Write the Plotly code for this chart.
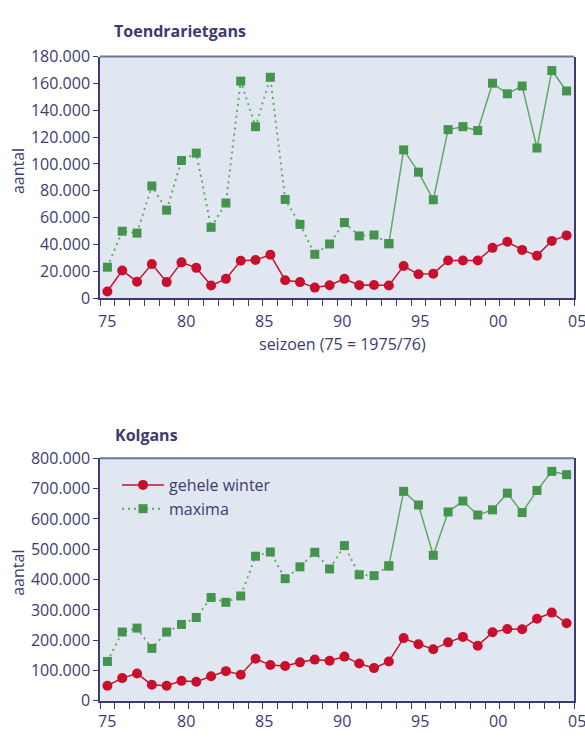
import plotly.graph_objects as go

# ---- data ----
seizoenen = list(range(1975, 2007))  # 32 seasons, 75 = 1975/76
x_tick_labels = ["75", "80", "85", "90", "95", "00", "05"]

toendra_winter = [5000, 20700, 12300, 25400, 12000, 26700, 22600, 9400, 14400, 27900,
                  28400, 32400, 13400, 12000, 7900, 9600, 14400, 9600, 9800, 9400,
                  24000, 17800, 18300, 28100, 28100, 28100, 37500, 42000, 36000, 31700,
                  42700, 46800]
toendra_maxima = [23100, 49900, 48500, 83600, 65600, 102600, 108100, 52800, 70900, 161700,
                  127800, 164600, 73600, 55000, 32700, 40400, 56400, 46400, 47100, 40600,
                  110500, 93900, 73300, 125600, 127800, 124900, 160200, 152300, 158100, 111900,
                  169600, 154400]

kol_winter = [50000, 75000, 90000, 53000, 50000, 66000, 63000, 81000, 98000, 86000,
              139000, 118000, 115000, 127000, 136000, 132000, 146000, 123000, 108000, 130000,
              207000, 187000, 170000, 193000, 211000, 182000, 226000, 237000, 236000, 271000,
              291000, 256000]
kol_maxima = [130000, 227000, 240000, 173000, 227000, 252000, 275000, 341000, 325000, 346000,
              477000, 491000, 403000, 442000, 490000, 435000, 512000, 416000, 413000, 445000,
              691000, 646000, 480000, 623000, 659000, 613000, 630000, 685000, 621000, 694000,
              757000, 746000]

split = 19  # maxima drawn dotted up to this season index, solid after

# ---- style ----
W, H = 585, 740
NAVY = "#3C3C6E"
BORDER_TOP = "#75759C"
RED = "#C8102E"
GREEN_M = "#45944E"
GREEN_L = "#5FA867"
BG = "#E1E7F1"
FONT = "Open Sans"

def px_x(p):
    return p / W

def px_y(p):
    return 1 - p / H

fig = go.Figure()

def add_series(xa, ya, winter, maxima, show_legend):
    fig.add_trace(go.Scatter(
        x=seizoenen[:split + 1], y=maxima[:split + 1], xaxis=xa, yaxis=ya,
        mode="lines+markers", name="maxima", legendgroup="max", showlegend=show_legend,
        line=dict(color=GREEN_L, width=1.9, dash="2px,4px"),
        marker=dict(symbol="square", size=9, color=GREEN_M), cliponaxis=False))
    fig.add_trace(go.Scatter(
        x=seizoenen[split:], y=maxima[split:], xaxis=xa, yaxis=ya,
        mode="lines+markers", name="maxima", legendgroup="max", showlegend=False,
        line=dict(color=GREEN_L, width=1.5),
        marker=dict(symbol="square", size=9, color=GREEN_M), cliponaxis=False))
    fig.add_trace(go.Scatter(
        x=seizoenen, y=winter, xaxis=xa, yaxis=ya,
        mode="lines+markers", name="gehele winter", legendgroup="win", showlegend=show_legend,
        line=dict(color=RED, width=1.5),
        marker=dict(symbol="circle", size=10, color=RED), cliponaxis=False))

add_series("x", "y", toendra_winter, toendra_maxima, False)
add_series("x2", "y2", kol_winter, kol_maxima, True)

xdom = [px_x(100), px_x(574)]
boundaries = [seizoenen[0] - 0.5 + k for k in range(len(seizoenen) + 1)]
xrange_ = [seizoenen[0] - 0.5, seizoenen[-1] + 0.5]

xcommon = dict(range=xrange_, showgrid=False, zeroline=False, showline=True,
               linecolor=NAVY, linewidth=1.5, mirror=False,
               tickmode="array", tickvals=boundaries, ticktext=[""] * len(boundaries),
               ticks="outside", ticklen=6, tickwidth=1.3, tickcolor=NAVY)
ycommon = dict(showgrid=False, zeroline=False, showline=True, linecolor=NAVY,
               linewidth=1.5, mirror=True, ticks="outside", ticklen=5, tickwidth=1.3,
               tickcolor=NAVY, tickformat=",d",
               tickfont=dict(family=FONT, size=16, color=NAVY))

fig.update_layout(
    width=W, height=H, margin=dict(l=0, r=0, t=0, b=0),
    paper_bgcolor="white", plot_bgcolor=BG, separators=",.",
    font=dict(family=FONT, color=NAVY, size=16),
    xaxis=dict(domain=xdom, anchor="y", **xcommon),
    yaxis=dict(domain=[px_y(296), px_y(47)], anchor="x", range=[0, 180000],
               tickvals=list(range(0, 180001, 20000)), **ycommon),
    xaxis2=dict(domain=xdom, anchor="y2", **xcommon),
    yaxis2=dict(domain=[px_y(711), px_y(461)], anchor="x2", range=[0, 800000],
                tickvals=list(range(0, 800001, 100000)), **ycommon),
    legend=dict(x=px_x(117), y=px_y(471), xanchor="left", yanchor="top",
                bgcolor="rgba(0,0,0,0)", font=dict(family=FONT, size=16, color=NAVY),
                itemwidth=42, traceorder="reversed", tracegroupgap=0),
    showlegend=True,
)

# lighter top border of each plot frame
fig.update_layout(shapes=[
    dict(type="line", xref="x domain", yref="y domain", x0=0, x1=1, y0=1, y1=1,
         line=dict(color=BORDER_TOP, width=2)),
    dict(type="line", xref="x2 domain", yref="y2 domain", x0=0, x1=1, y0=1, y1=1,
         line=dict(color=BORDER_TOP, width=2)),
])

annotations = []
label_step = 5.28
span = xrange_[1] - xrange_[0]
for k, lab in enumerate(x_tick_labels):
    pos = seizoenen[0] + k * label_step
    frac = (pos - xrange_[0]) / span
    for xr, ypx in (("x domain", 319), ("x2 domain", 732)):
        annotations.append(dict(x=frac, xref=xr, y=px_y(ypx), yref="paper", text=lab,
                                showarrow=False, xanchor="center", yanchor="middle",
                                font=dict(family=FONT, size=16, color=NAVY)))

annotations += [
    dict(x=px_x(112), y=px_y(21), xref="paper", yref="paper", text="<b>Toendrarietgans</b>",
         showarrow=False, xanchor="left", yanchor="middle",
         font=dict(family=FONT, size=16, color=NAVY)),
    dict(x=px_x(113), y=px_y(437), xref="paper", yref="paper", text="<b>Kolgans</b>",
         showarrow=False, xanchor="left", yanchor="middle",
         font=dict(family=FONT, size=16, color=NAVY)),
    dict(x=px_x(18), y=px_y(165), xref="paper", yref="paper", text="aantal", textangle=-90,
         showarrow=False, xanchor="center", yanchor="middle",
         font=dict(family=FONT, size=16, color=NAVY)),
    dict(x=px_x(18), y=px_y(579), xref="paper", yref="paper", text="aantal", textangle=-90,
         showarrow=False, xanchor="center", yanchor="middle",
         font=dict(family=FONT, size=16, color=NAVY)),
    dict(x=px_x(342), y=px_y(343), xref="paper", yref="paper", text="seizoen (75 = 1975/76)",
         showarrow=False, xanchor="center", yanchor="middle",
         font=dict(family=FONT, size=16, color=NAVY)),
]
fig.update_layout(annotations=annotations)

fig.write_html(
    "out.html",
    config={"displayModeBar": False},
    post_script="document.body.style.margin='0';document.body.style.padding='0';"
                "document.documentElement.style.overflow='hidden';",
)
